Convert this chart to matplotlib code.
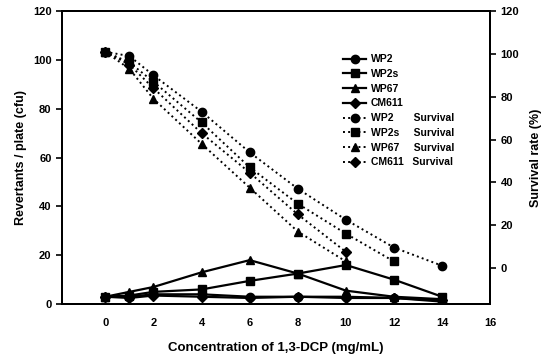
import numpy as np
import matplotlib.pyplot as plt

plt.rcParams['font.family'] = 'Liberation Sans'
plt.rcParams['font.weight'] = 'bold'

conc = [0, 1, 2, 4, 6, 8, 10, 12, 14]
strains = ['WP2', 'WP2s', 'WP67', 'CM611']
markers = ['o', 's', '^', 'D']

# revertants / plate
rev_wp2 = [3, 3, 4, 4, 3, 3, 3, 2.5, 1]
rev_wp2s = [3, 3.5, 5, 6, 9.5, 12.5, 16, 10, 3]
rev_wp67 = [3, 5, 7, 13, 18, 12.5, 5.5, 3, 2]
rev_cm611 = [3, 2.5, 3.5, 3, 2.5, 3, 2.5, 2.5, 1.5]

# survival rate (%)
surv_wp2_x = [0, 1, 2, 4, 6, 8, 10, 12, 14]
surv_wp2 = [101, 99, 90, 73, 54, 37, 22.5, 9.5, 1]
surv_wp2s_x = [0, 1, 2, 4, 6, 8, 10, 12]
surv_wp2s = [101, 96, 87, 68, 47, 30, 16, 3]
surv_wp67_x = [0, 1, 2, 4, 6, 8, 10]
surv_wp67 = [101, 93, 79, 58, 37.5, 17, 3]
surv_cm611_x = [0, 1, 2, 4, 6, 8, 10]
surv_cm611 = [101, 95, 84, 63, 44.5, 25, 7.5]

revs = [rev_wp2, rev_wp2s, rev_wp67, rev_cm611]
survs = [(surv_wp2_x, surv_wp2), (surv_wp2s_x, surv_wp2s),
         (surv_wp67_x, surv_wp67), (surv_cm611_x, surv_cm611)]
surv_labels = ['WP2       Survival', 'WP2s     Survival',
               'WP67     Survival', 'CM611   Survival']

fig = plt.figure(figsize=(5.49, 3.59), dpi=100)
ax = fig.add_axes([0.113, 0.153, 0.78, 0.816])
ax2 = ax.twinx()

handles = []
for name, m, r in zip(strains, markers, revs):
    ms = 5.5 if m == 'D' else 6
    h, = ax.plot(conc, r, '-', color='black', marker=m, ms=ms, lw=1.6, label=name)
    handles.append(h)
for lab, m, (sx, sy) in zip(surv_labels, markers, survs):
    ms = 5.5 if m == 'D' else 6
    h, = ax2.plot(sx, sy, ':', color='black', marker=m, ms=ms, lw=1.4, label=lab)
    handles.append(h)

ax.set_xlim(-1.8, 16)
ax.set_ylim(0, 120)
ax.set_xticks(np.arange(0, 17, 2))
ax.set_yticks(np.arange(0, 121, 20))
ax2.set_ylim(-16.9, 120)
ax2.set_yticks(np.arange(0, 121, 20))

for a in (ax, ax2):
    for s in a.spines.values():
        s.set_linewidth(1.4)
    a.tick_params(labelsize=8, width=1.2, length=4, direction='out')
ax.tick_params(axis='x', length=0, pad=10)

ax.set_xlabel('Concentration of 1,3-DCP (mg/mL)', fontsize=9.5, fontweight='bold', labelpad=10)
ax.set_ylabel('Revertants / plate (cfu)', fontsize=9, fontweight='bold')
ax2.set_ylabel('Survival rate (%)', fontsize=9, fontweight='bold', labelpad=8)

ax.legend(handles=handles, loc='upper left', bbox_to_anchor=(0.645, 0.87),
          frameon=False, fontsize=7.5, handlelength=2.2, labelspacing=0.45,
          borderpad=0, handletextpad=0.4)

fig.savefig('out.png', dpi=100)
